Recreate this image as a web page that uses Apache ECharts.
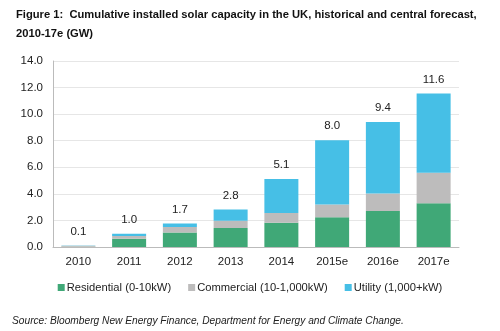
<!DOCTYPE html>
<html><head><meta charset="utf-8">
<script src="https://cdn.jsdelivr.net/npm/echarts@6/dist/echarts.min.js"></script>
<style>html,body{margin:0;padding:0;background:#fff}#c{width:500px;height:331px}</style>
</head><body><div id="c"></div>
<script>
const categories = ['2010','2011','2012','2013','2014','2015e','2016e','2017e'];
const residential = [0.02, 0.63, 1.10, 1.43, 1.83, 2.24, 2.71, 3.29];
const commercial  = [0.07, 0.20, 0.40, 0.55, 0.73, 0.95, 1.31, 2.29];
const utility     = [0.02, 0.17, 0.26, 0.85, 2.55, 4.85, 5.38, 5.98];
const totalLabels = ['0.1','1.0','1.7','2.8','5.1','8.0','9.4','11.6'];
const yTicks = [0,2,4,6,8,10,12,14];

const chart = echarts.init(document.getElementById('c'));
const font = 'Liberation Sans, Arial, sans-serif';
chart.setOption({
  animation:false,
  textStyle:{fontFamily:font},
  title:{
    text:'Figure 1:  Cumulative installed solar capacity in the UK, historical and central forecast,\n2010-17e (GW)',
    left:11, top:0,
    textStyle:{fontSize:11.2, fontWeight:'bold', color:'#111', lineHeight:19, fontFamily:font}
  },
  graphic:[{type:'text', left:12, top:316, style:{text:'Source: Bloomberg New Energy Finance, Department for Energy and Climate Change.', font:'italic 10.2px Liberation Sans, Arial, sans-serif', fill:'#222'}}],
  legend:{
    bottom:33, left:'center', itemWidth:7, itemHeight:7, itemGap:17, icon:'rect',
    textStyle:{fontSize:11.2, color:'#222', padding:[0,0,0,-3]},
    data:['Residential (0-10kW)','Commercial (10-1,000kW)','Utility (1,000+kW)']
  },
  grid:{left:53, right:41, top:61, bottom:84},
  xAxis:{
    type:'category', data:categories,
    axisLine:{lineStyle:{color:'#bbb'}}, axisTick:{show:false},
    axisLabel:{color:'#222', fontSize:11.5, margin:9}
  },
  yAxis:{
    type:'value', min:0, max:14, interval:2,
    axisLine:{show:true, lineStyle:{color:'#bbb'}},
    splitLine:{lineStyle:{color:'#e6e6e6'}},
    axisLabel:{color:'#222', fontSize:11.5, margin:10, formatter:v=>yTicks.includes(v)?v.toFixed(1):''}
  },
  series:[
    {name:'Residential (0-10kW)', type:'bar', stack:'s', data:residential, barCategoryGap:'33%', itemStyle:{color:'#40a877'}},
    {name:'Commercial (10-1,000kW)', type:'bar', stack:'s', data:commercial, itemStyle:{color:'#bdbcbc'}},
    {name:'Utility (1,000+kW)', type:'bar', stack:'s', data:utility, itemStyle:{color:'#46bfe6'},
      label:{show:true, position:'top', distance:8, color:'#222', fontSize:11.5, formatter:p=>totalLabels[p.dataIndex]}}
  ]
});
</script></body></html>
